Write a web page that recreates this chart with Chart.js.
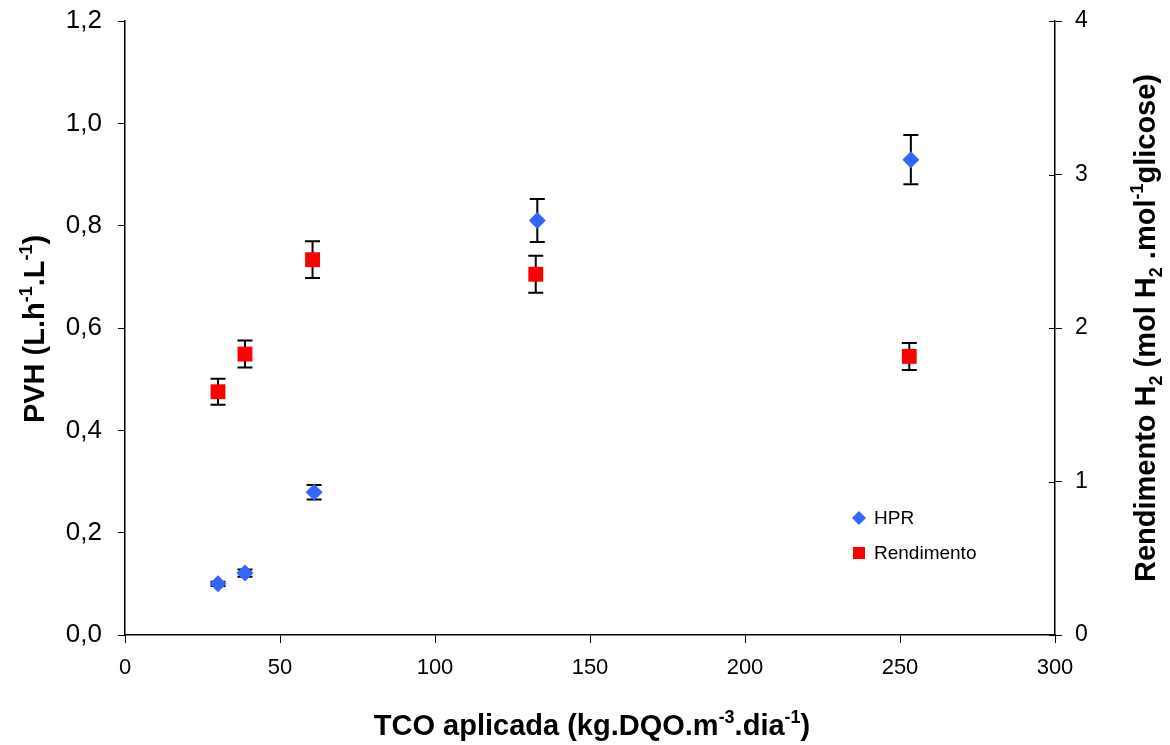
<!DOCTYPE html>
<html><head><meta charset="utf-8">
<script src="https://cdn.jsdelivr.net/npm/chart.js@4.4.1/dist/chart.umd.min.js"></script>
<style>html,body{margin:0;padding:0;background:#fff}#wrap{width:1170px;height:745px;position:relative}</style>
</head><body><div id="wrap"><canvas id="c" width="1170" height="745"></canvas></div>
<script>
// ---- data ----
const tcoHPR = [30, 38.7, 61, 133, 253.5];
const hprValues = [0.10, 0.121, 0.279, 0.81, 0.929];
const hprErrors = [0.004, 0.007, 0.014, 0.042, 0.048];
const tcoRend = [30, 38.7, 60.5, 132.5, 253];
const rendValues = [1.585, 1.83, 2.445, 2.35, 1.815];
const rendErrors = [0.085, 0.088, 0.12, 0.12, 0.088];
const xTicks = [0, 50, 100, 150, 200, 250, 300];
const yLeftTicks = [0, 0.2, 0.4, 0.6, 0.8, 1.0, 1.2];
const yRightTicks = [0, 1, 2, 3, 4];
const seriesLabels = ['HPR', 'Rendimento'];

const FONT = '"Liberation Sans", Arial, Helvetica, sans-serif';

const xTitle = [{t:'TCO aplicada (kg.DQO.m'},{t:'-3',s:'sup'},{t:'.dia'},{t:'-1',s:'sup'},{t:')'}];
const yTitle = [{t:'PVH (L.h'},{t:'-1',s:'sup'},{t:'.L'},{t:'-1',s:'sup'},{t:')'}];
const y2Title = [{t:'Rendimento H'},{t:'2',s:'sub'},{t:' (mol H'},{t:'2',s:'sub'},{t:' .mol'},{t:'-1',s:'sup'},{t:'glicose)'}];

function richWidth(ctx, segs, size) {
  let w = 0;
  segs.forEach(sg => {
    const fs = sg.s ? size * 0.62 : size;
    ctx.font = 'bold ' + fs + 'px ' + FONT;
    w += ctx.measureText(sg.t).width;
  });
  return w;
}
function drawRich(ctx, segs, cx, cy, size, rot) {
  ctx.save();
  ctx.translate(cx, cy);
  if (rot) ctx.rotate(rot);
  ctx.fillStyle = '#000';
  ctx.textBaseline = 'alphabetic';
  ctx.textAlign = 'left';
  const w = richWidth(ctx, segs, size);
  let x = -w / 2;
  const base = size * 0.36;
  segs.forEach(sg => {
    const fs = sg.s ? size * 0.62 : size;
    ctx.font = 'bold ' + fs + 'px ' + FONT;
    let y = base;
    if (sg.s === 'sup') y = base - size * 0.42;
    if (sg.s === 'sub') y = base + size * 0.22;
    ctx.fillText(sg.t, x, y);
    x += ctx.measureText(sg.t).width;
  });
  ctx.restore();
}

const errorBars = {
  id: 'errorBars',
  beforeDatasetsDraw(chart) {
    const ctx = chart.ctx;
    const errs = [hprErrors, rendErrors];
    const vals = [hprValues, rendValues];
    ctx.save();
    ctx.strokeStyle = '#000';
    ctx.lineWidth = 2;
    chart.data.datasets.forEach((ds, i) => {
      const meta = chart.getDatasetMeta(i);
      const ys = chart.scales[meta.yAxisID];
      meta.data.forEach((pt, j) => {
        const x = pt.x;
        const t = ys.getPixelForValue(vals[i][j] + errs[i][j]);
        const b = ys.getPixelForValue(vals[i][j] - errs[i][j]);
        ctx.beginPath();
        ctx.moveTo(x, t); ctx.lineTo(x, b);
        ctx.moveTo(x - 7.5, t); ctx.lineTo(x + 7.5, t);
        ctx.moveTo(x - 7.5, b); ctx.lineTo(x + 7.5, b);
        ctx.stroke();
      });
    });
    ctx.restore();
  }
};

const decor = {
  id: 'decor',
  afterDraw(chart) {
    const ctx = chart.ctx;
    const a = chart.chartArea;
    // inner part of right-axis cross ticks
    const y2 = chart.scales.y2;
    ctx.save();
    ctx.strokeStyle = '#000';
    ctx.lineWidth = 1;
    y2.ticks.forEach(tk => {
      const py = Math.round(y2.getPixelForValue(tk.value)) + 0.5;
      ctx.beginPath(); ctx.moveTo(a.right - 6, py); ctx.lineTo(a.right, py); ctx.stroke();
    });
    ctx.restore();
    // axis titles
    drawRich(ctx, xTitle, (a.left + a.right) / 2 + 2, 725, 29);
    drawRich(ctx, yTitle, 34, (a.top + a.bottom) / 2 + 1, 29, -Math.PI / 2);
    drawRich(ctx, y2Title, 1145, (a.top + a.bottom) / 2, 29, -Math.PI / 2);
    // legend
    ctx.save();
    const lx = 859, ly = [518, 553];
    chart.data.datasets.forEach((ds, i) => {
      ctx.fillStyle = ds.backgroundColor;
      ctx.beginPath();
      if (ds.pointStyle === 'rectRot') {
        const r = 7;
        ctx.moveTo(lx, ly[i] - r); ctx.lineTo(lx + r, ly[i]); ctx.lineTo(lx, ly[i] + r); ctx.lineTo(lx - r, ly[i]);
        ctx.closePath();
      } else {
        ctx.rect(lx - 6, ly[i] - 6, 12, 12);
      }
      ctx.fill();
      ctx.fillStyle = '#000';
      ctx.font = '19px ' + FONT;
      ctx.textBaseline = 'middle';
      ctx.textAlign = 'left';
      ctx.fillText(ds.label, 874, ly[i] + 1);
    });
    ctx.restore();
  }
};

new Chart(document.getElementById('c'), {
  type: 'scatter',
  data: {
    datasets: [
      {
        label: seriesLabels[0],
        data: tcoHPR.map((x, i) => ({x, y: hprValues[i]})),
        yAxisID: 'y',
        pointStyle: 'rectRot',
        pointRadius: 8.5,
        backgroundColor: '#3366FF',
        borderColor: '#3366FF',
        borderWidth: 0
      },
      {
        label: seriesLabels[1],
        data: tcoRend.map((x, i) => ({x, y: rendValues[i]})),
        yAxisID: 'y2',
        pointStyle: 'rect',
        pointRadius: 10.5,
        backgroundColor: '#FF0000',
        borderColor: '#FF0000',
        borderWidth: 0
      }
    ]
  },
  options: {
    responsive: false,
    animation: false,
    layout: { padding: { top: 21, left: 0, right: 0, bottom: 0 } },
    plugins: { legend: { display: false }, tooltip: { enabled: false } },
    scales: {
      x: {
        type: 'linear', min: 0, max: 300,
        afterBuildTicks: s => { s.ticks = xTicks.map(v => ({value: v})); },
        afterFit: s => { s.height = 110; s.paddingLeft = 0; s.paddingRight = 0; },
        ticks: { color: '#000', font: { family: FONT, size: 22 }, padding: 12, maxRotation: 0 },
        grid: { drawOnChartArea: false, drawTicks: true, tickLength: 8, tickColor: '#000', tickWidth: 1 },
        border: { color: '#000', width: 1.5 }
      },
      y: {
        position: 'left', min: 0, max: 1.2,
        afterBuildTicks: s => { s.ticks = yLeftTicks.map(v => ({value: v})); },
        afterFit: s => { s.width = 125; s.paddingTop = 0; s.paddingBottom = 0; },
        ticks: { color: '#000', font: { family: FONT, size: 26 }, padding: 16,
          callback: v => v.toFixed(1).replace('.', ',') },
        grid: { drawOnChartArea: false, drawTicks: true, tickLength: 7, tickColor: '#000', tickWidth: 1 },
        border: { color: '#000', width: 1.5 }
      },
      y2: {
        position: 'right', min: 0, max: 4,
        afterBuildTicks: s => { s.ticks = yRightTicks.map(v => ({value: v})); },
        afterFit: s => { s.width = 115; s.paddingTop = 0; s.paddingBottom = 0; },
        ticks: { color: '#000', font: { family: FONT, size: 23 }, padding: 13,
          callback: v => String(v) },
        grid: { drawOnChartArea: false, drawTicks: true, tickLength: 7, tickColor: '#000', tickWidth: 1 },
        border: { color: '#000', width: 1.5 }
      }
    }
  },
  plugins: [errorBars, decor]
});
</script>
</body></html>
